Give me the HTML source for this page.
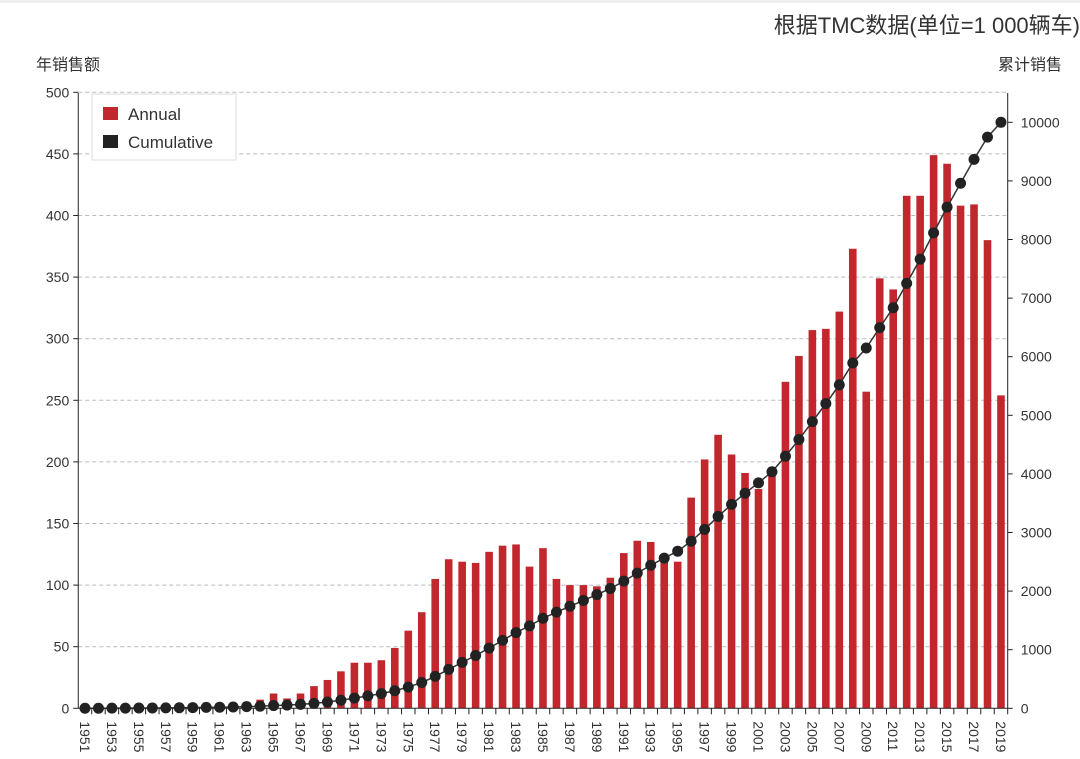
<!DOCTYPE html>
<html><head><meta charset="utf-8">
<style>
html,body{margin:0;padding:0;background:#fff;width:1080px;height:759px;overflow:hidden}
svg{display:block}
text{font-family:"Liberation Sans","Noto Sans CJK SC",sans-serif;fill:#333}
</style></head><body>
<svg id="c" width="1080" height="759" xmlns="http://www.w3.org/2000/svg">
<rect x="0" y="0" width="1080" height="3" fill="#eee"/>
<text x="1080" y="33" text-anchor="end" font-size="22" fill="#333">根据TMC数据(单位=1 000辆车)</text>
<text x="36" y="70" font-size="16">年销售额</text>
<text x="998" y="70" font-size="16">累计销售</text>
<g id="g"></g>
</svg>
<script>
var ann=[0.5,1,1,1,1,1.5,2,2,2.5,3,3.5,4,5,7,12,8,12,18,23,30,37,37,39,49,63,78,105,121,119,118,127,132,133,115,130,105,100,100,99,106,126,136,135,122,119,171,202,222,206,191,178,190,265,286,307,308,322,373,257,349,340,416,416,449,442,408,409,380,254];
var L=78.25,R=1007.7,B=708.3,T=93,n=ann.length,w=(R-L)/n,cs=0.0586;
var s='';
for(var v=0;v<=500;v+=50){var y=B-v*1.232;
 if(v>0)s+='<line x1="'+L+'" x2="'+R+'" y1="'+y+'" y2="'+y+'" stroke="#bbb" stroke-dasharray="4,3"/>';
 s+='<line x1="'+(L-5)+'" x2="'+L+'" y1="'+y+'" y2="'+y+'" stroke="#222"/>';
 s+='<text x="'+(L-9)+'" y="'+(y+5)+'" text-anchor="end" font-size="14">'+v+'</text>';}
for(var v=0;v<=10000;v+=1000){var y=B-v*cs;
 s+='<line x1="'+R+'" x2="'+(R+5)+'" y1="'+y+'" y2="'+y+'" stroke="#222"/>';
 s+='<text x="'+(R+13)+'" y="'+(y+5)+'" font-size="14">'+v+'</text>';}
var cum=[],t=0;for(var i=0;i<n;i++){t+=ann[i];cum.push(t);}var k=10000/t;
for(var i=0;i<n;i++){var cx=L+w*(i+0.5),h=ann[i]*1.232;
 s+='<rect x="'+(cx-3.8)+'" y="'+(B-h)+'" width="7.6" height="'+h+'" fill="#c1272d"/>';
 s+='<line x1="'+(L+w*(i+1))+'" x2="'+(L+w*(i+1))+'" y1="'+B+'" y2="'+(B+6)+'" stroke="#222"/>';
 if(i%2==0)s+='<text transform="translate('+(cx-5)+','+(B+13)+') rotate(90)" font-size="14">'+(1951+i)+'</text>';}
var p='';for(var i=0;i<n;i++){p+=(i?'L':'M')+(L+w*(i+0.5))+','+(B-cum[i]*k*cs);}
s+='<path d="'+p+'" fill="none" stroke="#333" stroke-width="1.5"/>';
for(var i=0;i<n;i++)s+='<circle cx="'+(L+w*(i+0.5))+'" cy="'+(B-cum[i]*k*cs)+'" r="5.5" fill="#222"/>';
s+='<line x1="'+L+'" x2="'+L+'" y1="'+T+'" y2="'+B+'" stroke="#222"/>';
s+='<line x1="'+R+'" x2="'+R+'" y1="'+T+'" y2="'+B+'" stroke="#222"/>';
s+='<line x1="'+L+'" x2="'+R+'" y1="'+B+'" y2="'+B+'" stroke="#222"/>';
s+='<rect x="92" y="94" width="144" height="66" fill="#fff" stroke="#ddd"/>';
s+='<rect x="103" y="107" width="15" height="13" fill="#c1272d"/><text x="128" y="120" font-size="17">Annual</text>';
s+='<rect x="103" y="135" width="15" height="13" fill="#222"/><text x="128" y="148" font-size="17">Cumulative</text>';
document.getElementById('g').innerHTML=s;
</script>
</body></html>
